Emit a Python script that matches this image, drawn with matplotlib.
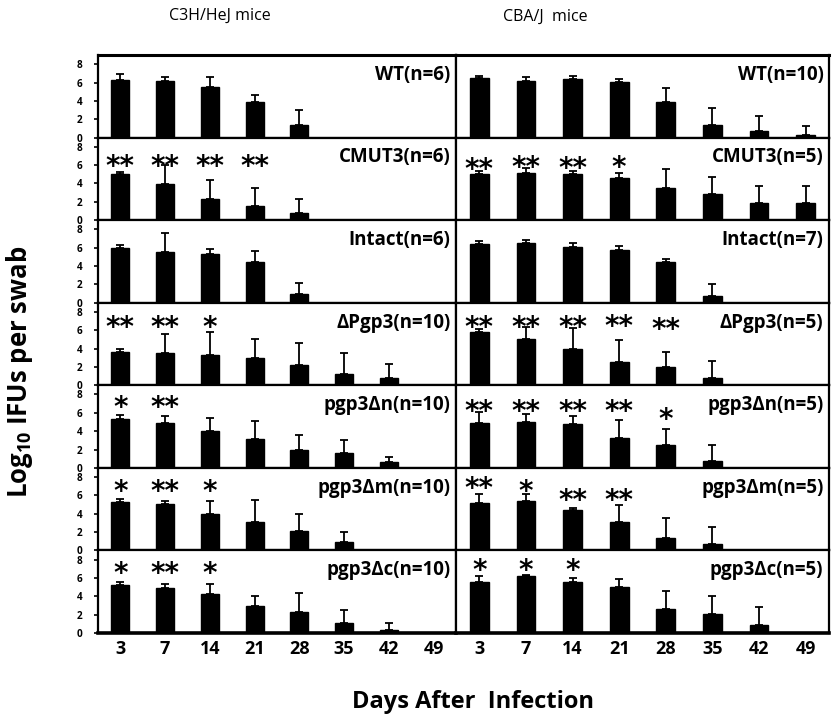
import matplotlib
matplotlib.use("Agg")
import matplotlib.pyplot as plt
import numpy as np

plt.rcParams['font.family'] = ['Open Sans', 'DejaVu Sans']
plt.rcParams['mathtext.default'] = 'regular'

days = [3, 7, 14, 21, 28, 35, 42, 49]
strains = ['WT', 'CMUT3', 'Intact', 'ΔPgp3', 'pgp3Δn', 'pgp3Δm', 'pgp3Δc']
c3h_n = [6, 6, 6, 10, 10, 10, 10]
cba_n = [10, 5, 7, 5, 5, 5, 5]

c3h_mean = [
    [6.30, 6.20, 5.55, 3.85, 1.35, 0, 0, 0],
    [5.00, 3.95, 2.25, 1.50, 0.80, 0, 0, 0],
    [6.00, 5.50, 5.35, 4.40, 1.00, 0, 0, 0],
    [3.65, 3.55, 3.35, 2.95, 2.25, 1.25, 0.80, 0],
    [5.35, 4.90, 4.00, 3.10, 2.00, 1.65, 0.65, 0],
    [5.33, 5.04, 4.00, 3.14, 2.08, 0.91, 0, 0],
    [5.26, 4.93, 4.23, 2.94, 2.28, 1.10, 0.37, 0],
]
c3h_err = [
    [0.60, 0.45, 1.00, 0.80, 1.70, 0, 0, 0],
    [0.26, 2.10, 2.15, 2.05, 1.50, 0, 0, 0],
    [0.30, 2.10, 0.55, 1.20, 1.15, 0, 0, 0],
    [0.30, 2.05, 2.45, 2.10, 2.35, 2.30, 1.55, 0],
    [0.45, 0.80, 1.40, 2.00, 1.60, 1.40, 0.50, 0],
    [0.25, 0.30, 1.35, 2.40, 1.90, 1.10, 0, 0],
    [0.35, 0.37, 1.07, 1.06, 2.10, 1.36, 0.77, 0],
]
cba_mean = [
    [6.49, 6.13, 6.38, 6.02, 3.93, 1.40, 0.68, 0.29],
    [5.04, 5.15, 5.07, 4.60, 3.52, 2.89, 1.85, 1.85],
    [6.38, 6.52, 6.12, 5.80, 4.40, 0.77, 0, 0],
    [5.82, 5.02, 4.00, 2.58, 2.04, 0.80, 0, 0],
    [4.87, 4.95, 4.80, 3.26, 2.49, 0.70, 0, 0],
    [5.22, 5.40, 4.42, 3.10, 1.39, 0.73, 0, 0],
    [5.59, 6.18, 5.59, 4.96, 2.57, 2.02, 0.88, 0],
]
cba_err = [
    [0.25, 0.47, 0.32, 0.32, 1.47, 1.77, 1.70, 1.00],
    [0.29, 0.52, 0.30, 0.55, 2.04, 1.80, 1.90, 1.90],
    [0.32, 0.33, 0.38, 0.40, 0.40, 1.28, 0, 0],
    [0.36, 1.34, 2.25, 2.40, 1.56, 1.85, 0, 0],
    [1.21, 0.91, 0.88, 1.98, 1.76, 1.83, 0, 0],
    [0.88, 0.80, 0.18, 1.86, 2.15, 1.79, 0, 0],
    [0.59, 0.18, 0.41, 0.89, 1.99, 2.02, 1.95, 0],
]
# significance marks per row: list of (day index, mark, height)
c3h_sig = [
    [],
    [(0, '**', 6.67), (1, '**', 6.67), (2, '**', 6.67), (3, '**', 6.67)],
    [],
    [(0, '**', 7.16), (1, '**', 7.16), (2, '*', 7.16)],
    [(0, '*', 7.44), (1, '**', 7.44)],
    [(0, '*', 7.2), (1, '**', 7.2), (2, '*', 7.2)],
    [(0, '*', 7.35), (1, '**', 7.35), (2, '*', 7.35)],
]
cba_sig = [
    [],
    [(0, '**', 6.3), (1, '**', 6.6), (2, '**', 6.5), (3, '*', 6.6)],
    [],
    [(0, '**', 7.16), (1, '**', 7.16), (2, '**', 7.16), (3, '**', 7.27), (4, '**', 6.87)],
    [(0, '**', 6.96), (1, '**', 6.96), (2, '**', 6.96), (3, '**', 6.96), (4, '*', 6.15)],
    [(0, '**', 7.6), (1, '*', 7.2), (2, '**', 6.24), (3, '**', 6.24)],
    [(0, '*', 7.6), (1, '*', 7.6), (2, '*', 7.6)],
]

W, H = 835, 719
fig = plt.figure(figsize=(W / 100, H / 100), dpi=100)

top_px, bot_px = 55, 633
row_h = (bot_px - top_px) / 7
cols = [(98, 456), (456, 829)]
x = np.arange(len(days))
STAR_FS = 20

for ci, (means, errs, ns, sigs) in enumerate([(c3h_mean, c3h_err, c3h_n, c3h_sig),
                                             (cba_mean, cba_err, cba_n, cba_sig)]):
    x0, x1 = cols[ci]
    for r in range(7):
        y_top = top_px + r * row_h
        ax = fig.add_axes([x0 / W, 1 - (y_top + row_h) / H, (x1 - x0) / W, row_h / H])
        m = np.array(means[r])
        e = np.array(errs[r])
        ax.bar(x, m, width=0.4, color='black', edgecolor='black')
        mask = m > 0
        ax.errorbar(x[mask], m[mask], yerr=[np.zeros(mask.sum()), e[mask]],
                    fmt='none', ecolor='black', elinewidth=1.3, capsize=2.6, capthick=1.3)
        for (di, mark, yy) in sigs[r]:
            ax.annotate(mark, (x[di], yy), xytext=(0, -0.58 * STAR_FS), textcoords='offset points',
                        ha='center', va='baseline', fontsize=STAR_FS, family=['DejaVu Sans'],
                        fontweight='bold', color='black')
        ax.text(0.985, 0.76, f'{strains[r]}(n={ns[r]})', transform=ax.transAxes,
                ha='right', va='center', fontsize=13.5, fontweight='bold')
        ax.set_xlim(-0.5, len(days) - 0.5)
        ax.set_ylim(0, 9)
        for s in ax.spines.values():
            s.set_linewidth(1.6)
        if ci == 0:
            ax.set_yticks([0, 2, 4, 6, 8])
            ax.tick_params(axis='y', length=3, width=1.2, pad=8, labelsize=7.2)
            for lab in ax.get_yticklabels():
                lab.set_fontweight('bold')
        else:
            ax.set_yticks([])
        if r == 6:
            ax.set_xticks(x)
            ax.set_xticklabels([str(d) for d in days], fontsize=13, fontweight='bold')
            ax.tick_params(axis='x', length=0, pad=5)
            ax.spines['bottom'].set_linewidth(2.6)
        else:
            ax.set_xticks([])
        if r == 0:
            ax.spines['top'].set_linewidth(2.2)

fig.text(220 / W, 1 - 16 / H, 'C3H/HeJ mice', ha='center', va='center', fontsize=11.5)
fig.text(545 / W, 1 - 17 / H, 'CBA/J  mice', ha='center', va='center', fontsize=11.5)
fig.text(20 / W, 1 - 372 / H, 'Log$_{10}$ IFUs per swab', rotation=90, ha='center', va='center',
         fontsize=18.5, fontweight='bold')
fig.text(473 / W, 1 - 702 / H, 'Days After  Infection', ha='center', va='center',
         fontsize=17, fontweight='bold')

fig.savefig('out.png', dpi=100)
